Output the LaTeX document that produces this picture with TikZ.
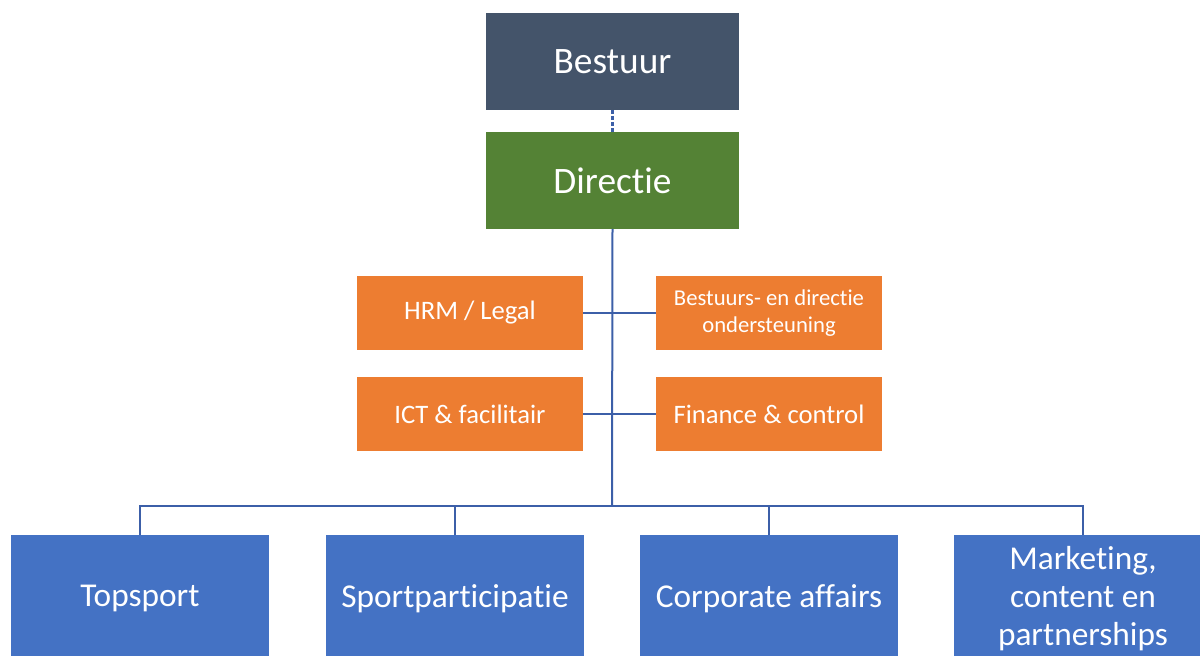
\documentclass[tikz,border=0pt]{standalone}
\usepackage{fontspec}
\setmainfont{Carlito}[Ligatures=CommonOff, RawFeature=-liga, RawFeature=-clig, RawFeature=-calt, RawFeature=-dlig]
\definecolor{slate}{HTML}{44546A}
\definecolor{dgreen}{HTML}{548235}
\definecolor{orng}{HTML}{ED7D31}
\definecolor{bblue}{HTML}{4472C4}
\definecolor{lineblue}{HTML}{3C5FA8}
\newlength{\pxu}
\setlength{\pxu}{0.75pt}
\tikzset{
  box/.style={anchor=north west, inner sep=0pt, outer sep=0pt, text=white, align=center},
  topbox/.style={box, minimum width=253\pxu, minimum height=97\pxu, font=\fontsize{28}{34}\selectfont},
  staff/.style={box, fill=orng, minimum width=226\pxu, minimum height=74\pxu},
  unit/.style={box, fill=bblue, minimum width=258\pxu, minimum height=127\pxu, font=\fontsize{25}{28.5}\selectfont},
  conn/.style={draw=lineblue, line width=1.5pt},
}
\begin{document}
\begin{tikzpicture}[x=0.75pt, y=-0.75pt]
\useasboundingbox (0,0) rectangle (1200,656);
\clip (0,0) rectangle (1200,656);
\node[topbox, fill=slate] (bestuur) at (486,13) {Bestuur};
\node[topbox, fill=dgreen] (directie) at (486,132) {Directie};
\node[staff, font=\fontsize{20}{24}\selectfont] (hrm) at (357,276) {HRM / Legal};
\node[staff, font=\fontsize{17}{20.5}\selectfont] (bds) at (656,276) {Bestuurs- en directie\\ondersteuning};
\node[staff, font=\fontsize{20}{24}\selectfont] (ict) at (357,377) {ICT \& facilitair};
\node[staff, font=\fontsize{20}{24}\selectfont] (fin) at (656,377) {Finance \& control};
\node[unit] (top) at (11,535) {Topsport};
\node[unit] (spp) at (326,535) {Sportparticipatie};
\node[unit] (corp) at (640,535) {Corporate affairs};
\node[unit] (mkt) at (954,535) {Marketing,\\content en\\partnerships};
\coordinate (bus) at (612,506);
\draw[conn, line width=1.8pt, dash pattern=on 3pt off 1.5pt] (bestuur.south) -- (directie.north);
\draw[conn] (directie.south) -- (bus);
\draw[conn] (hrm.east) -- (bds.west);
\draw[conn] (ict.east) -- (fin.west);
\draw[conn] (top.north) |- (bus) -| (mkt.north);
\draw[conn] (spp.north) -- (spp.north |- bus);
\draw[conn] (corp.north) -- (corp.north |- bus);
\end{tikzpicture}
\end{document}
